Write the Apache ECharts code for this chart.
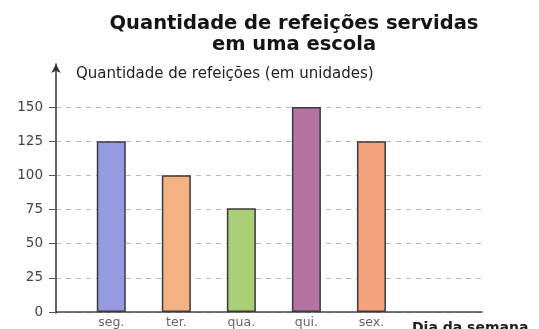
<!DOCTYPE html>
<html><head><meta charset="utf-8">
<script src="https://cdn.jsdelivr.net/npm/echarts@6/dist/echarts.min.js"></script>
<style>html,body{margin:0;padding:0;background:#fff}#c{width:539px;height:329px}</style>
</head><body><div id="c"></div>
<script>
const categories = ['seg.', 'ter.', 'qua.', 'qui.', 'sex.'];
const values = [125, 100, 76, 150, 125];
const barColors = ['#959be0', '#f4b282', '#abcf76', '#b672a2', '#f5a27e'];
const yTicks = [0, 25, 50, 75, 100, 125, 150];
const titleText = 'Quantidade de refeições servidas\nem uma escola';
const yName = 'Quantidade de refeições (em unidades)';
const xName = 'Dia da semana';

const positions = categories.map((c, i) => i + 1);
const chart = echarts.init(document.getElementById('c'));
chart.setOption({
  animation: false,
  title: [
    { text: titleText, left: 289, top: 8, textAlign: 'center',
      textStyle: { fontFamily: 'DejaVu Sans', fontWeight: 'bold', fontSize: 19.5, color: '#151515', lineHeight: 21 } },
    { text: yName, left: 71, top: 62,
      textStyle: { fontFamily: 'DejaVu Sans', fontWeight: 'normal', fontSize: 15, color: '#222' } },
    { text: xName, left: 407, top: 316,
      textStyle: { fontFamily: 'DejaVu Sans', fontWeight: 'bold', fontSize: 14, color: '#222' } }
  ],
  grid: [
    { left: 56, right: 57, top: 64, bottom: 16 },
    { left: 56, right: 57, top: 107, bottom: 16 }
  ],
  xAxis: [
    { type: 'value', gridIndex: 0, min: 0.15, max: 6.7, show: false },
    { type: 'value', gridIndex: 1, min: 0.15, max: 6.7,
      axisLine: { show: true, lineStyle: { color: '#444', width: 1.5 } },
      axisTick: { show: false },
      splitLine: { show: false },
      axisLabel: { customValues: positions, formatter: v => categories[Math.round(v) - 1] || '',
        color: '#666', fontSize: 12.5, fontFamily: 'DejaVu Sans', margin: 4 } }
  ],
  yAxis: [
    { type: 'value', gridIndex: 0, min: 0, max: 180,
      axisLine: { show: true, symbol: ['none', 'arrow'], symbolSize: [7, 9], lineStyle: { color: '#333', width: 1.5 } },
      axisTick: { show: false }, axisLabel: { show: false }, splitLine: { show: false } },
    { type: 'value', gridIndex: 1, min: 0, max: 150, interval: 25,
      axisLine: { show: false },
      axisTick: { show: true, length: 7, lineStyle: { color: '#555' } },
      axisLabel: { color: '#444', fontSize: 13.5, fontFamily: 'DejaVu Sans', margin: 13,
        formatter: v => yTicks.includes(v) ? String(v) : '' },
      splitLine: { show: true, lineStyle: { type: [5, 5], color: '#bbb', width: 1 } } }
  ],
  series: [{
    type: 'bar', xAxisIndex: 1, yAxisIndex: 1, barWidth: 29,
    data: values.map((v, i) => ({ value: [positions[i], v],
      itemStyle: { color: barColors[i], borderColor: '#3a3a3a', borderWidth: 1.5 } }))
  }]
});
</script></body></html>
